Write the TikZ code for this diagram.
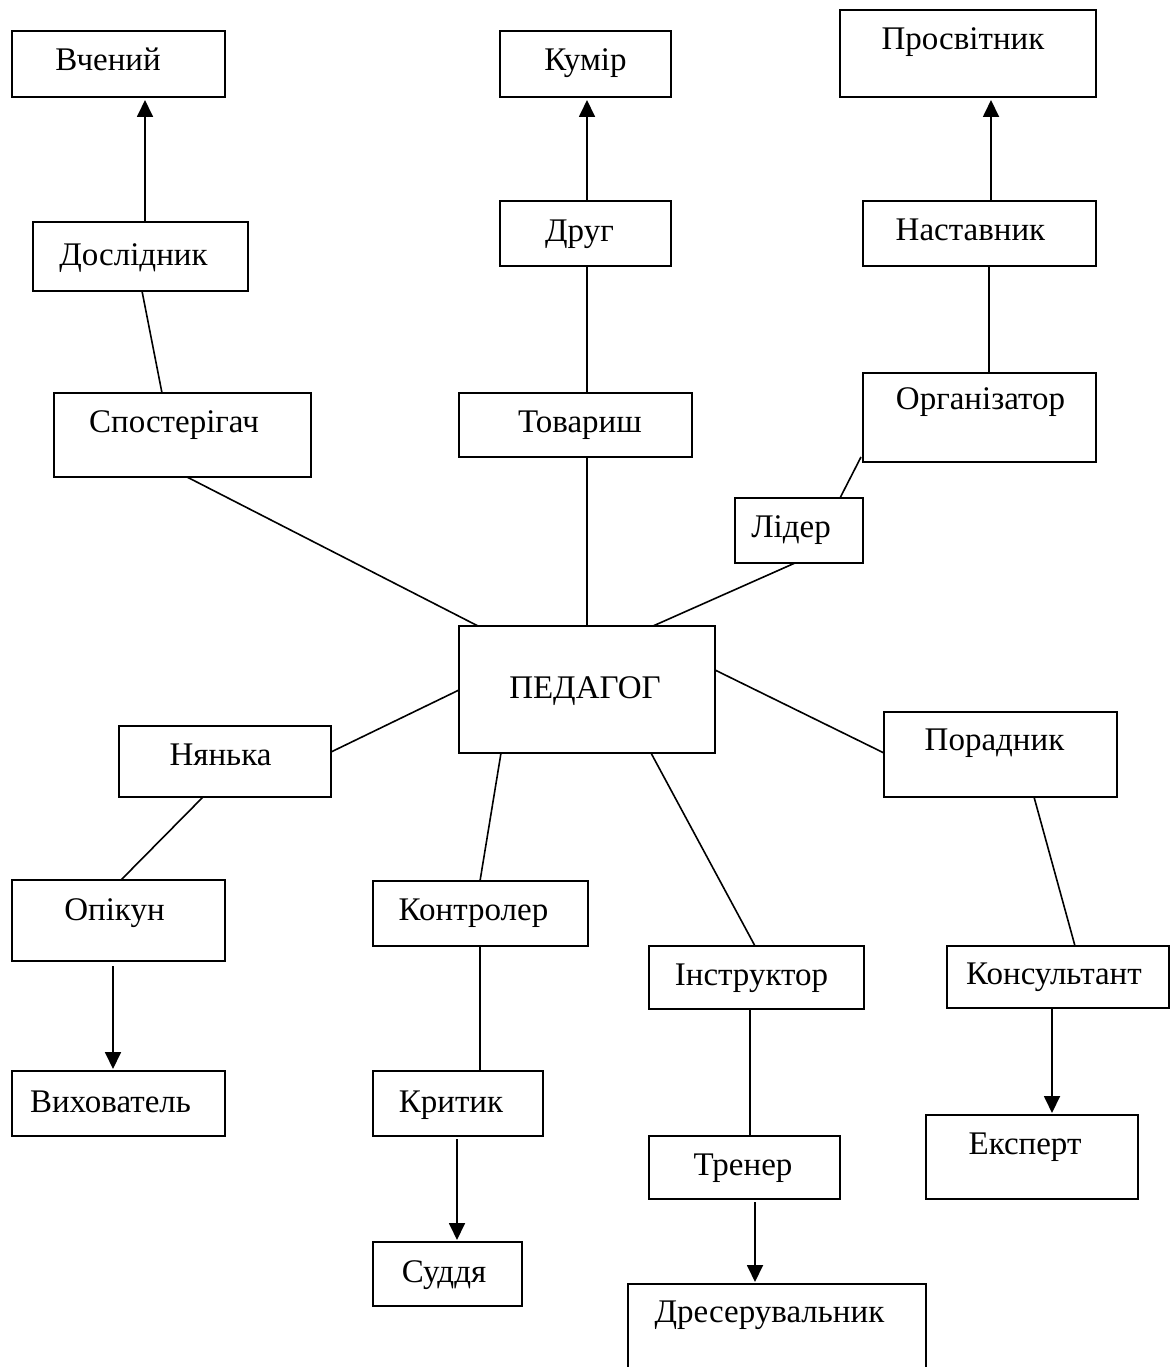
\documentclass[tikz,border=0pt]{standalone}
\usepackage{fontspec}
\setmainfont{Liberation Serif}
\usetikzlibrary{arrows.meta}
\begin{document}
\begin{tikzpicture}[x=1pt,y=-1pt,
  box/.style={draw, line width=2pt, inner sep=0pt, outer sep=0pt, anchor=north west},
  lbl/.style={anchor=base, inner sep=0pt, font=\fontsize{33}{40}\selectfont},
  link/.style={line width=1.6pt},
  arr/.style={line width=1.8pt, -{Triangle[width=16pt,length=17pt]}}]
\useasboundingbox (0,0) rectangle (1171,1367);
\clip (0,0) rectangle (1171,1367);

% boxes
\node[box, minimum width=213pt, minimum height=66pt] (vch) at (12,31) {};
\node[box, minimum width=215pt, minimum height=69pt] (dosl) at (33,222) {};
\node[box, minimum width=171pt, minimum height=66pt] (kumir) at (500,31) {};
\node[box, minimum width=171pt, minimum height=65pt] (drug) at (500,201) {};
\node[box, minimum width=256pt, minimum height=87pt] (prosv) at (840,10) {};
\node[box, minimum width=233pt, minimum height=65pt] (nast) at (863,201) {};
\node[box, minimum width=257pt, minimum height=84pt] (spost) at (54,393) {};
\node[box, minimum width=233pt, minimum height=64pt] (tovar) at (459,393) {};
\node[box, minimum width=233pt, minimum height=89pt] (org) at (863,373) {};
\node[box, minimum width=128pt, minimum height=65pt] (lider) at (735,498) {};
\node[box, minimum width=256pt, minimum height=127pt] (ped) at (459,626) {};
\node[box, minimum width=212pt, minimum height=71pt] (nyan) at (119,726) {};
\node[box, minimum width=233pt, minimum height=85pt] (porad) at (884,712) {};
\node[box, minimum width=213pt, minimum height=81pt] (opik) at (12,880) {};
\node[box, minimum width=215pt, minimum height=65pt] (kontr) at (373,881) {};
\node[box, minimum width=215pt, minimum height=63pt] (instr) at (649,946) {};
\node[box, minimum width=222pt, minimum height=62pt] (kons) at (947,946) {};
\node[box, minimum width=213pt, minimum height=65pt] (vykh) at (12,1071) {};
\node[box, minimum width=170pt, minimum height=65pt] (kryt) at (373,1071) {};
\node[box, minimum width=212pt, minimum height=84pt] (eksp) at (926,1115) {};
\node[box, minimum width=191pt, minimum height=63pt] (trener) at (649,1136) {};
\node[box, minimum width=149pt, minimum height=64pt] (sud) at (373,1242) {};
\node[box, minimum width=298pt, minimum height=120pt] (dres) at (628,1284) {};

% labels
\node[lbl] (vchT) at (108,71) {Вчений};
\node[lbl] (doslT) at (133.5,265) {Дослідник};
\node[lbl] (kumirT) at (585.5,71) {Кумір};
\node[lbl] (drugT) at (579.5,241) {Друг};
\node[lbl] (prosvT) at (963,50) {Просвітник};
\node[lbl] (nastT) at (970.5,240) {Наставник};
\node[lbl] (spostT) at (174,432) {Спостерігач};
\node[lbl] (tovarT) at (580,432) {Товариш};
\node[lbl] (orgT) at (980.5,409) {Організатор};
\node[lbl] (liderT) at (791,537) {Лідер};
\node[lbl] (pedT) at (585,698) {ПЕДАГОГ};
\node[lbl] (nyanT) at (220.5,765) {Нянька};
\node[lbl] (poradT) at (994.5,750) {Порадник};
\node[lbl] (opikT) at (114.5,920) {Опікун};
\node[lbl] (kontrT) at (473.5,920) {Контролер};
\node[lbl] (instrT) at (751.5,985) {Інструктор};
\node[lbl] (konsT) at (1054,984) {Консультант};
\node[lbl] (vykhT) at (110.5,1112) {Вихователь};
\node[lbl] (krytT) at (451,1112) {Критик};
\node[lbl] (ekspT) at (1025,1154) {Експерт};
\node[lbl] (trenerT) at (743,1175) {Тренер};
\node[lbl] (sudT) at (444,1282) {Суддя};
\node[lbl] (dresT) at (769.5,1322) {Дресерувальник};

% connectors
\draw[arr] ([xshift=112pt]dosl.north west) -- ([xshift=133pt,yshift=-3pt]vch.south west);
\draw[link] ([xshift=108pt]spost.north west) -- ([xshift=109pt]dosl.south west);
\draw[link] ([xshift=19pt]ped.north west) -- ([xshift=133pt]spost.south west);
\draw[arr] ([xshift=87pt]drug.north west) -- ([xshift=87pt,yshift=-3pt]kumir.south west);
\draw[link] ([xshift=128pt]tovar.north west) -- ([xshift=87pt]drug.south west);
\draw[link] ([xshift=128pt]ped.north west) -- ([xshift=128pt]tovar.south west);
\draw[arr] ([xshift=128pt]nast.north west) -- ([xshift=151pt,yshift=-3pt]prosv.south west);
\draw[link] ([xshift=126pt]org.north west) -- ([xshift=126pt]nast.south west);
\draw[link] ([xshift=105pt]lider.north west) -- ([xshift=-2pt,yshift=5pt]org.south west);
\draw[link] ([xshift=194pt]ped.north west) -- ([xshift=60pt]lider.south west);
\draw[link] ([yshift=-64pt]ped.north west) -- ([yshift=-26pt]nyan.north east);
\draw[link] ([xshift=84pt]nyan.south west) -- ([xshift=109pt]opik.north west);
\draw[arr] ([xshift=101pt,yshift=-5pt]opik.south west) -- ([xshift=101pt,yshift=2pt]vykh.north west);
\draw[link] ([xshift=42pt]ped.south west) -- ([xshift=107pt]kontr.north west);
\draw[link] ([xshift=107pt]kontr.south west) -- ([xshift=107pt]kryt.north west);
\draw[arr] ([xshift=84pt,yshift=-3pt]kryt.south west) -- ([xshift=84pt,yshift=2pt]sud.north west);
\draw[link] ([xshift=192pt]ped.south west) -- ([xshift=106pt]instr.north west);
\draw[link] ([xshift=101pt]instr.south west) -- ([xshift=101pt]trener.north west);
\draw[arr] ([xshift=106pt,yshift=-3pt]trener.south west) -- ([xshift=127pt,yshift=2pt]dres.north west);
\draw[link] ([yshift=-44pt]ped.north east) -- ([yshift=-41pt]porad.north west);
\draw[link] ([xshift=150pt]porad.south west) -- ([xshift=128pt]kons.north west);
\draw[arr] ([xshift=105pt]kons.south west) -- ([xshift=126pt,yshift=2pt]eksp.north west);
\end{tikzpicture}
\end{document}
